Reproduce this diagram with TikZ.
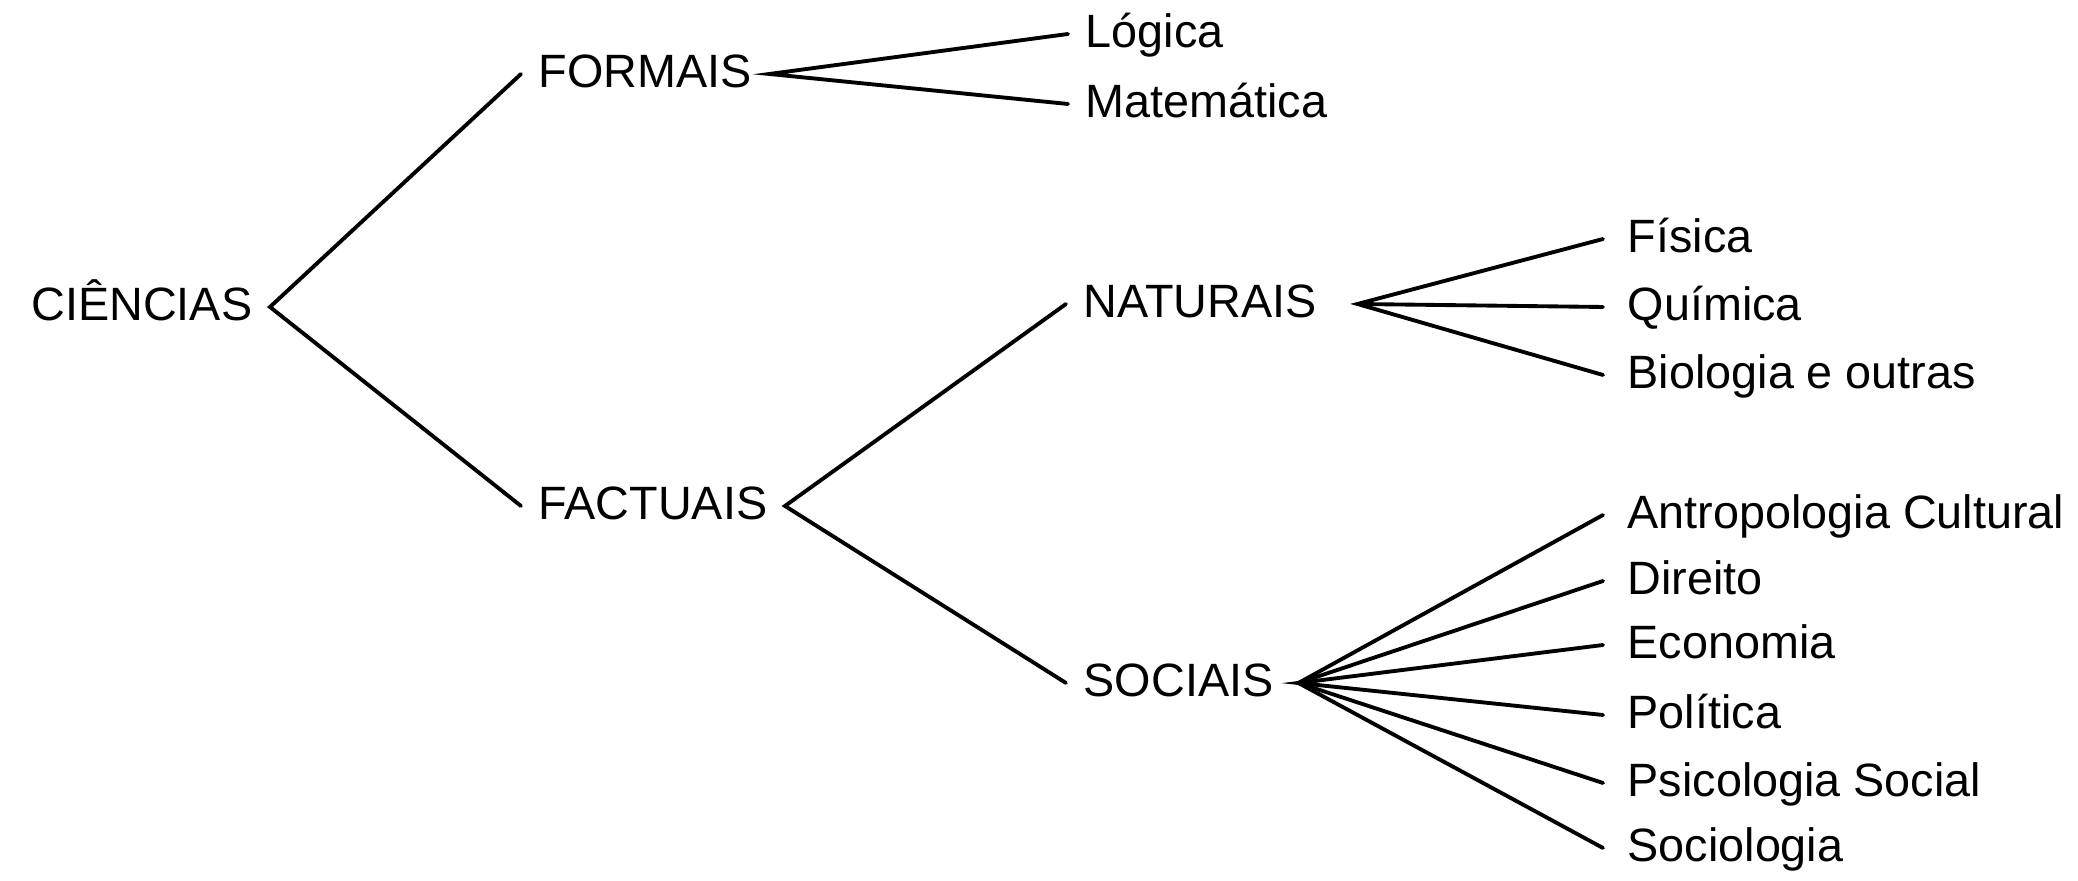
\documentclass[tikz,border=0pt]{standalone}
\usepackage{fontspec}
\setmainfont{Liberation Sans}
\usepackage{tikz}

\tikzset{
  rotulo/.style={font=\fontsize{13.3pt}{16pt}\selectfont, inner xsep=0.17cm, inner ysep=0pt, text height=0.34cm, text depth=0.06cm},
  folha/.style={rotulo, anchor=west, inner xsep=0.24cm},
  galho/.style={line width=1.1pt, line cap=round}
}

\begin{document}
\begin{tikzpicture}
            \useasboundingbox (0,0) rectangle (20.78,8.81);
            \node[rotulo, anchor=east] (ciencias) at (2.70,5.74) {CIÊNCIAS};
            \node[rotulo, anchor=west] (formais) at (5.21,8.07) {FORMAIS};
            \node[rotulo, anchor=west] (factuais) at (5.21,3.75) {FACTUAIS};
            \node[rotulo, anchor=west, text width=2.56cm, align=left] (naturais) at (10.66,5.77) {NATURAIS};
            \node[rotulo, anchor=west, text width=1.97cm, align=left] (sociais) at (10.66,1.98) {SOCIAIS};
            \node[rotulo, anchor=west] (logica) at (10.68,8.47) {Lógica};
            \node[rotulo, anchor=west] (matematica) at (10.68,7.77) {Matemática};
            \node[folha] (fisica) at (16.03,6.42) {Física};
            \node[folha] (quimica) at (16.03,5.74) {Química};
            \node[folha] (biologia) at (16.03,5.06) {Biologia e outras};
            \node[folha] (antropologia) at (16.03,3.66) {Antropologia Cultural};
            \node[folha] (direito) at (16.03,3.00) {Direito};
            \node[folha] (economia) at (16.03,2.36) {Economia};
            \node[folha] (politica) at (16.03,1.66) {Política};
            \node[folha] (psicologia) at (16.03,0.98) {Psicologia Social};
            \node[folha] (sociologia) at (16.03,0.33) {Sociologia};
            \draw[galho] (formais.west) -- (ciencias.east) -- (factuais.west);
            \draw[galho] (logica.west) -- (formais.east) -- (matematica.west);
            \draw[galho] (naturais.west) -- (factuais.east) -- (sociais.west);
            \draw[galho] (fisica.west) -- (naturais.east) -- (biologia.west);
            \draw[galho] (naturais.east) -- (quimica.west);
            \draw[galho] (antropologia.west) -- (sociais.east) -- (sociologia.west);
            \draw[galho] (direito.west) -- (sociais.east) -- (psicologia.west);
            \draw[galho] (economia.west) -- (sociais.east) -- (politica.west);
        \end{tikzpicture}
\end{document}
